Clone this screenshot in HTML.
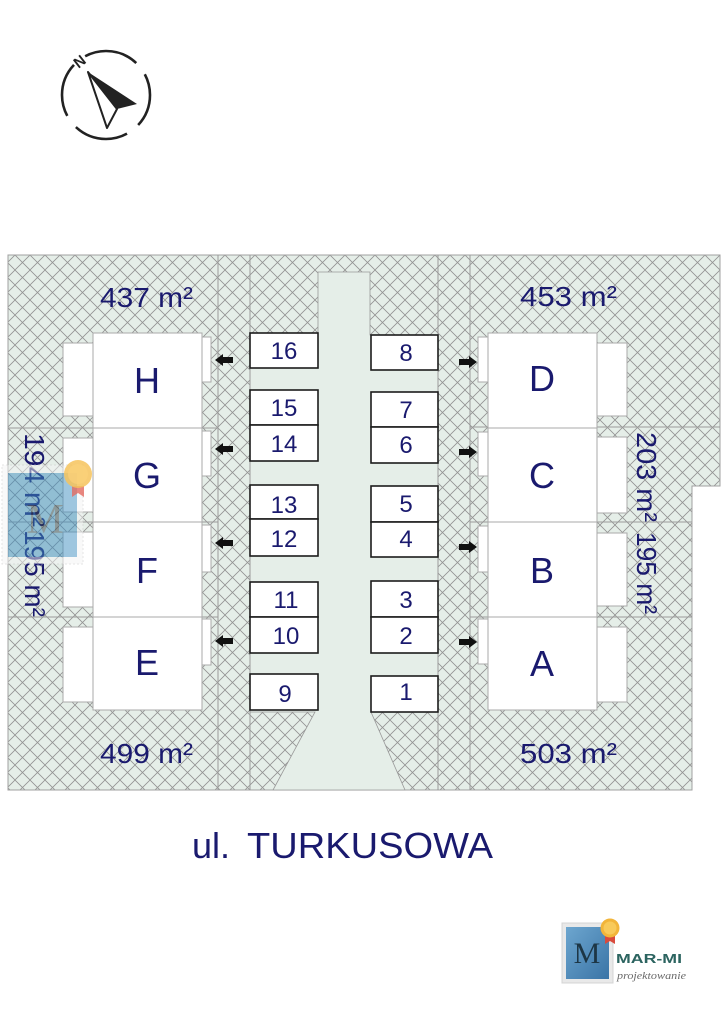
<!DOCTYPE html>
<html><head><meta charset="utf-8"><style>
html,body{margin:0;padding:0;background:#fff;}
svg{display:block;}
.s{font-family:"Liberation Sans",Arial,sans-serif;}
.sf{font-family:"Liberation Serif","DejaVu Serif",serif;}
</style></head><body>
<svg width="724" height="1024" viewBox="0 0 724 1024" xmlns="http://www.w3.org/2000/svg">
<defs>
<pattern id="h" patternUnits="userSpaceOnUse" width="15" height="15">
<path d="M0,0 L15,15 M15,0 L0,15" stroke="#929292" stroke-width="0.8" fill="none"/>
</pattern>
<linearGradient id="bl" x1="0" y1="0" x2="1" y2="1">
<stop offset="0" stop-color="#6da6cf"/><stop offset="1" stop-color="#3a74a6"/>
</linearGradient>
</defs>
<rect width="724" height="1024" fill="#fff"/>

<!-- compass -->
<circle cx="106" cy="95" r="44" fill="none" stroke="#222" stroke-width="2.6" stroke-dasharray="55 14.1" stroke-dashoffset="22"/>
<polygon points="88,72 137,104 117,109" fill="#222"/>
<polygon points="88,72 117,109 107,128" fill="#fff" stroke="#222" stroke-width="2" stroke-linejoin="round"/>
<text class="s" x="0" y="0" transform="translate(80,62) rotate(-38)" font-size="15" font-weight="bold" fill="#222" text-anchor="middle" dominant-baseline="central">N</text>

<!-- lots -->
<path d="M8,255 H720 V486 H692 V790 H8 Z" fill="#e5eee8"/>
<path d="M8,255 H720 V486 H692 V790 H8 Z" fill="url(#h)" stroke="#a0a0a0" stroke-width="1"/>
<!-- driveway -->
<path d="M318,272 H370 V335 H438 V712 H371 L405,790 H273 L315,712 H250 V333 H318 Z" fill="#e5eee8" stroke="#999" stroke-width="0.8"/>
<g stroke="#9a9a9a" stroke-width="1">
<line x1="218" y1="255" x2="218" y2="790"/>
<line x1="250" y1="255" x2="250" y2="790"/>
<line x1="438" y1="255" x2="438" y2="790"/>
<line x1="470" y1="255" x2="470" y2="790"/>
<line x1="8" y1="428" x2="218" y2="428"/>
<line x1="8" y1="522" x2="218" y2="522"/>
<line x1="8" y1="617" x2="218" y2="617"/>
<line x1="470" y1="427" x2="720" y2="427"/>
<line x1="470" y1="522" x2="692" y2="522"/>
<line x1="470" y1="617" x2="692" y2="617"/>
</g>

<!-- houses -->
<g fill="#fff" stroke="#aaa" stroke-width="1">
<rect x="63" y="343" width="30" height="73"/>
<rect x="63" y="438" width="30" height="74"/>
<rect x="63" y="532" width="30" height="75"/>
<rect x="63" y="627" width="30" height="75"/>
<rect x="93" y="333" width="109" height="95"/>
<rect x="93" y="428" width="109" height="94"/>
<rect x="93" y="522" width="109" height="95"/>
<rect x="93" y="617" width="109" height="93"/>
<rect x="202" y="337" width="9" height="45"/>
<rect x="202" y="431" width="9" height="45"/>
<rect x="202" y="525" width="9" height="47"/>
<rect x="202" y="619" width="9" height="46"/>
<rect x="597" y="343" width="30" height="73"/>
<rect x="597" y="437" width="30" height="76"/>
<rect x="597" y="533" width="30" height="73"/>
<rect x="597" y="627" width="30" height="75"/>
<rect x="488" y="333" width="109" height="95"/>
<rect x="488" y="428" width="109" height="94"/>
<rect x="488" y="522" width="109" height="95"/>
<rect x="488" y="617" width="109" height="93"/>
<rect x="478" y="337" width="10" height="45"/>
<rect x="478" y="432" width="10" height="44"/>
<rect x="478" y="526" width="10" height="46"/>
<rect x="478" y="619" width="10" height="45"/>
</g>

<!-- arrows -->
<g fill="#111">
<polygon points="215,360 223,354 223,357 233,357 233,363 223,363 223,366"/>
<polygon points="215,449 223,443 223,446 233,446 233,452 223,452 223,455"/>
<polygon points="215,543 223,537 223,540 233,540 233,546 223,546 223,549"/>
<polygon points="215,641 223,635 223,638 233,638 233,644 223,644 223,647"/>
<polygon points="477,362 469,356 469,359 459,359 459,365 469,365 469,368"/>
<polygon points="477,452 469,446 469,449 459,449 459,455 469,455 469,458"/>
<polygon points="477,547 469,541 469,544 459,544 459,550 469,550 469,553"/>
<polygon points="477,642 469,636 469,639 459,639 459,645 469,645 469,648"/>
</g>

<!-- parking boxes -->
<g fill="#fff" stroke="#1c1c1c" stroke-width="1.6">
<rect x="250" y="333" width="68" height="35"/>
<rect x="250" y="390" width="68" height="35"/>
<rect x="250" y="425" width="68" height="36"/>
<rect x="250" y="485" width="68" height="34"/>
<rect x="250" y="519" width="68" height="37"/>
<rect x="250" y="582" width="68" height="35"/>
<rect x="250" y="617" width="68" height="36"/>
<rect x="250" y="674" width="68" height="36"/>
<rect x="371" y="335" width="67" height="35"/>
<rect x="371" y="392" width="67" height="35"/>
<rect x="371" y="427" width="67" height="36"/>
<rect x="371" y="486" width="67" height="36"/>
<rect x="371" y="522" width="67" height="35"/>
<rect x="371" y="581" width="67" height="36"/>
<rect x="371" y="617" width="67" height="36"/>
<rect x="371" y="676" width="67" height="36"/>
</g>
<g class="s" font-size="24" fill="#1a1a6e" text-anchor="middle">
<text x="284" y="359">16</text>
<text x="284" y="416">15</text>
<text x="284" y="452">14</text>
<text x="284" y="513">13</text>
<text x="284" y="547">12</text>
<text x="286" y="608">11</text>
<text x="286" y="644">10</text>
<text x="285" y="702">9</text>
<text x="406" y="361">8</text>
<text x="406" y="418">7</text>
<text x="406" y="453">6</text>
<text x="406" y="512">5</text>
<text x="406" y="547">4</text>
<text x="406" y="608">3</text>
<text x="406" y="644">2</text>
<text x="406" y="700">1</text>
</g>

<g class="s" font-size="36" fill="#1a1a6e" text-anchor="middle">
<text x="147" y="393">H</text>
<text x="147" y="488">G</text>
<text x="147" y="583">F</text>
<text x="147" y="675">E</text>
<text x="542" y="391">D</text>
<text x="542" y="488">C</text>
<text x="542" y="583">B</text>
<text x="542" y="676">A</text>
</g>

<g class="s" font-size="28" fill="#1a1a6e">
<text x="100" y="307" textLength="93" lengthAdjust="spacingAndGlyphs">437 m²</text>
<text x="520" y="306" textLength="97" lengthAdjust="spacingAndGlyphs">453 m²</text>
<text x="100" y="763" textLength="93" lengthAdjust="spacingAndGlyphs">499 m²</text>
<text x="520" y="763" textLength="97" lengthAdjust="spacingAndGlyphs">503 m²</text>
<text transform="translate(25,433) rotate(90)" textLength="94" lengthAdjust="spacingAndGlyphs">194 m²</text>
<text transform="translate(25,530) rotate(90)" textLength="87" lengthAdjust="spacingAndGlyphs">195 m²</text>
<text transform="translate(637,432) rotate(90)" textLength="90" lengthAdjust="spacingAndGlyphs">203 m²</text>
<text transform="translate(637,532) rotate(90)" textLength="82" lengthAdjust="spacingAndGlyphs">195 m²</text>
</g>

<!-- left overlay logo -->
<g opacity="0.5">
<rect x="2" y="465" width="81" height="99" fill="#f4f4f4" stroke="#ccc" stroke-dasharray="2 2"/>
<rect x="8" y="473" width="69" height="84" fill="#3f8fc0"/>
<text class="sf" x="45" y="533" font-size="42" fill="#35464e" text-anchor="middle">M</text>
</g>
<polygon points="72,486 84,486 84,497 78,493 72,497" fill="#e46a60" opacity="0.8"/>
<circle cx="78" cy="474" r="14" fill="#f6c35c" opacity="0.85"/>
<circle cx="78" cy="474" r="10" fill="#fbd27a" opacity="0.7"/>

<!-- street name -->
<text class="s" x="192" y="858" font-size="36" fill="#1a1a6e">ul.</text>
<text class="s" x="247" y="858" font-size="36" fill="#1a1a6e" textLength="246" lengthAdjust="spacingAndGlyphs">TURKUSOWA</text>

<!-- bottom logo -->
<rect x="562" y="923" width="51" height="60" fill="#e9e9e9" stroke="#d4d4d4"/>
<rect x="566" y="927" width="43" height="52" fill="url(#bl)"/>
<text class="sf" x="587" y="963" font-size="30" fill="#1d3645" text-anchor="middle">M</text>
<polygon points="605,936 615,936 615,944 610,941 605,944" fill="#d94a3c"/>
<circle cx="610" cy="928" r="9.5" fill="#f2b53a"/>
<circle cx="610" cy="928" r="6.5" fill="#f8ca5a"/>
<text class="s" x="616" y="963" font-size="12.5" font-weight="bold" fill="#2c6460" textLength="66" lengthAdjust="spacingAndGlyphs">MAR-MI</text>
<text class="sf" x="617" y="979" font-style="italic" font-size="11" fill="#6a6a6a" textLength="69" lengthAdjust="spacingAndGlyphs">projektowanie</text>
</svg>
</body></html>
